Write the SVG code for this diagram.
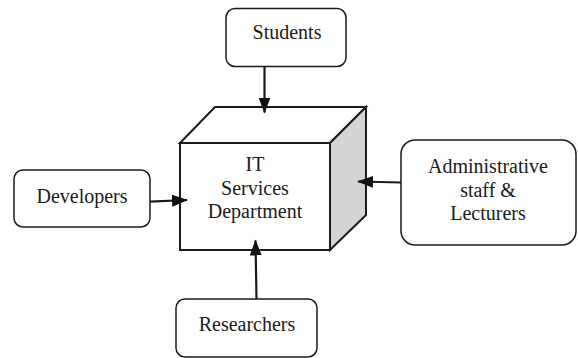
<svg xmlns="http://www.w3.org/2000/svg" width="578" height="358" viewBox="0 0 578 358">
<defs>
<style>
.box{fill:#fff;stroke:#1a1a1a;stroke-width:1.5}
.cube{stroke:#1a1a1a;stroke-width:2;stroke-linejoin:miter}
.conn{stroke:#1a1a1a;stroke-width:2.2;fill:none}
</style>
<marker id="ah" viewBox="0 0 16 12" refX="15" refY="6" markerWidth="16" markerHeight="12" markerUnits="userSpaceOnUse" orient="auto">
<path d="M0,0 L16,6 L0,12 Z" fill="#111"/>
</marker>
</defs>
<rect width="578" height="358" fill="#fff"/>
<g id="it-services">
<polygon class="cube" fill="#fff" points="180,143 215,107 366,107 330,143"/>
<polygon class="cube" fill="#d4d4d4" points="330,143 366,107 366,215 330,250"/>
<rect class="cube" fill="#fff" x="180" y="143" width="150" height="107"/>
<text font-family="Liberation Serif" font-size="20" text-anchor="middle" fill="#1a1a1a" x="255" y="171">IT</text>
<text font-family="Liberation Serif" font-size="20" text-anchor="middle" fill="#1a1a1a" x="255" y="194.5">Services</text>
<text font-family="Liberation Serif" font-size="20" text-anchor="middle" fill="#1a1a1a" x="255" y="218">Department</text>
</g>
<g id="students">
<rect class="box" x="226" y="8.5" width="120" height="58" rx="9"/>
<text font-family="Liberation Serif" font-size="20" text-anchor="middle" fill="#1a1a1a" x="287" y="38.5">Students</text>
</g>
<g id="developers">
<rect class="box" x="14" y="170" width="136" height="57" rx="9"/>
<text font-family="Liberation Serif" font-size="20" text-anchor="middle" fill="#1a1a1a" x="82" y="202.5">Developers</text>
</g>
<g id="admin">
<rect class="box" x="401" y="140" width="175" height="105" rx="14"/>
<text font-family="Liberation Serif" font-size="20" text-anchor="middle" fill="#1a1a1a" x="488" y="173">Administrative</text>
<text font-family="Liberation Serif" font-size="20" text-anchor="middle" fill="#1a1a1a" x="488" y="196.5">staff &amp;</text>
<text font-family="Liberation Serif" font-size="20" text-anchor="middle" fill="#1a1a1a" x="488" y="219.5">Lecturers</text>
</g>
<g id="researchers">
<rect class="box" x="176" y="299" width="141" height="58" rx="9"/>
<text font-family="Liberation Serif" font-size="20" text-anchor="middle" fill="#1a1a1a" x="247" y="331">Researchers</text>
</g>
<g id="connectors">
<line class="conn" x1="264.5" y1="67" x2="264.5" y2="112.5" marker-end="url(#ah)"/>
<line class="conn" x1="150" y1="201.7" x2="187" y2="200" marker-end="url(#ah)"/>
<line class="conn" x1="401" y1="182.5" x2="358" y2="181.5" marker-end="url(#ah)"/>
<line class="conn" x1="256.5" y1="299" x2="255.5" y2="240.5" marker-end="url(#ah)"/>
</g>
</svg>
